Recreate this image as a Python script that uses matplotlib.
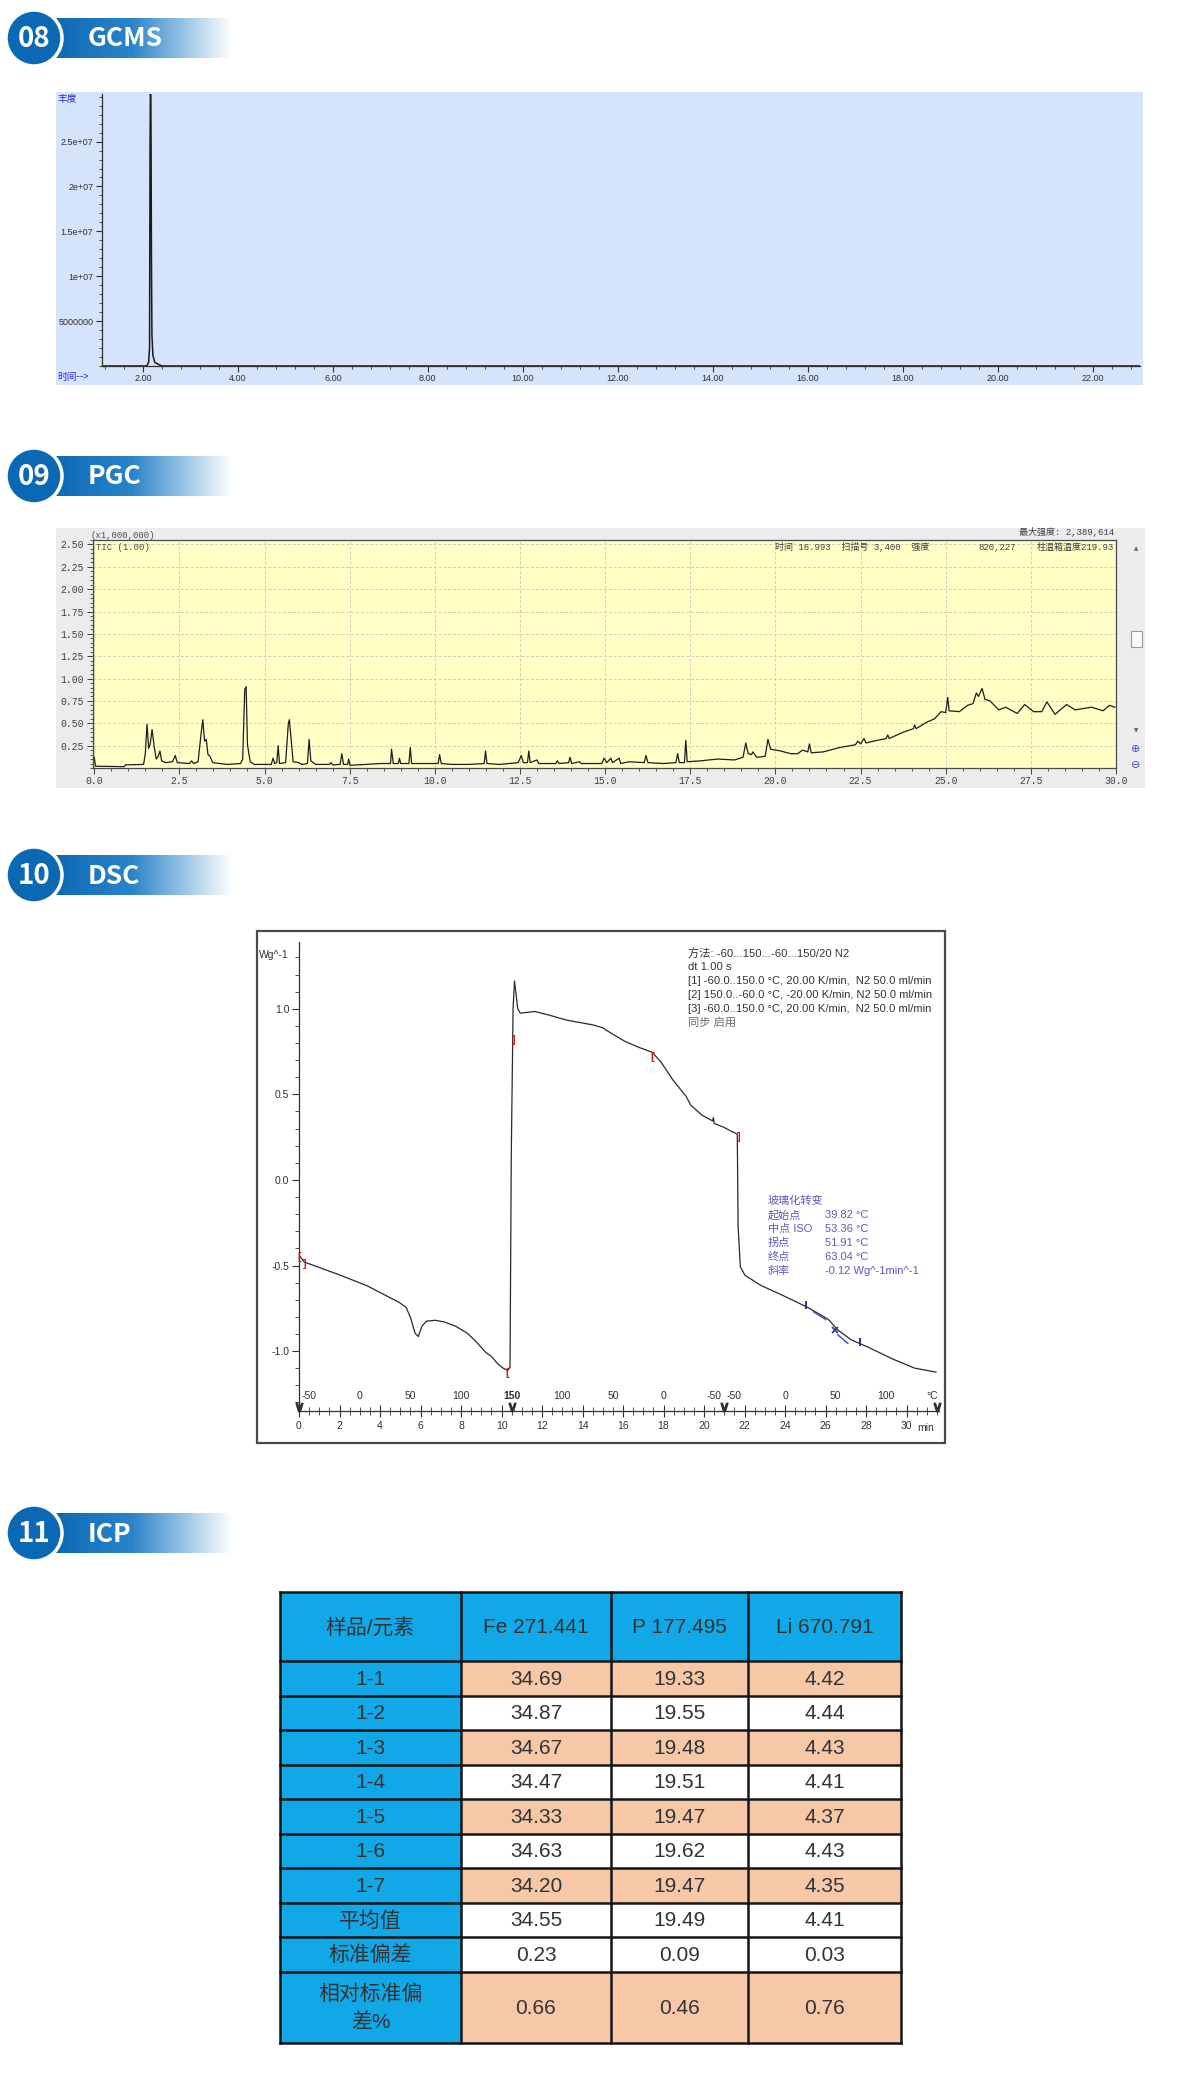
import numpy as np
import matplotlib
matplotlib.use('Agg')
import matplotlib.pyplot as plt
from matplotlib.patches import Rectangle, Circle
from matplotlib.colors import LinearSegmentedColormap
from matplotlib.ticker import MultipleLocator, FixedLocator, FormatStrFormatter

plt.rcParams['font.family'] = ['Liberation Sans', 'Noto Sans CJK SC', 'DejaVu Sans']
plt.rcParams['axes.unicode_minus'] = False

CJK = ['Noto Sans CJK SC', 'DejaVu Sans']
MONO = ['Liberation Mono', 'Noto Sans CJK SC', 'DejaVu Sans']

# section headers
sec_nums = ['08', '09', '10', '11']
sec_names = ['GCMS', 'PGC', 'DSC', 'ICP']

# GCMS total ion chromatogram
gcms_time = [1.13, 2.08, 2.12, 2.14, 2.15, 2.16, 2.17, 2.18, 2.19, 2.21, 2.25, 2.32, 2.40, 23.0]
gcms_abund = [0, 0, 4e5, 2.0e6, 2.4e7, 3.2e7, 2.7e7, 1.2e7, 3.5e6, 1.2e6, 4e5, 2e5, 0, 0]
gcms_yticks = [5e6, 1e7, 1.5e7, 2e7, 2.5e7]
gcms_ylabels = ['5000000', '1e+07', '1.5e+07', '2e+07', '2.5e+07']

# PGC chromatogram (time min, intensity x1,000,000)
pgc_time = [0.00, 0.04, 0.88, 0.92, 1.45, 1.50, 1.55, 1.60, 1.64, 1.70, 1.76, 1.82, 1.88, 1.93, 1.98,
            2.10, 2.30, 2.38, 2.44, 2.80, 2.86, 2.92, 3.05, 3.14, 3.19, 3.24, 3.29, 3.34, 3.40, 3.48,
            3.90, 4.30, 4.36, 4.42, 4.46, 4.50, 4.58, 4.70, 5.20, 5.25, 5.30, 5.36, 5.40, 5.44, 5.62,
            5.70, 5.73, 5.78, 5.84, 6.00, 6.10, 6.26, 6.31, 6.36, 6.50, 6.90, 6.95, 7.00, 7.22, 7.27,
            7.32, 7.44, 7.47, 7.51, 7.95, 8.40, 8.70, 8.73, 8.78, 8.93, 8.96, 9.00, 9.24, 9.28, 9.32,
            9.70, 10.10, 10.14, 10.19, 10.50, 11.00, 11.45, 11.49, 11.53, 11.90, 12.45, 12.54, 12.60,
            12.72, 12.76, 12.80, 13.00, 13.05, 13.55, 13.60, 13.65, 13.93, 13.97, 14.02, 14.25, 14.30,
            14.90, 14.97, 15.05, 15.17, 15.22, 15.41, 15.46, 15.70, 16.15, 16.20, 16.26, 16.70, 17.08,
            17.13, 17.18, 17.33, 17.37, 17.41, 17.80, 18.30, 18.80, 19.05, 19.13, 19.20, 19.30, 19.34,
            19.45, 19.70, 19.78, 19.86, 20.16, 20.45, 20.65, 20.80, 20.95, 21.00, 21.05, 21.40, 21.90,
            22.35, 22.42, 22.50, 22.60, 22.66, 22.88, 23.25, 23.30, 23.34, 23.75, 24.05, 24.09, 24.13,
            24.43, 24.67, 24.86, 25.00, 25.06, 25.10, 25.40, 25.64, 25.80, 25.90, 25.96, 26.07, 26.15,
            26.30, 26.56, 26.76, 27.10, 27.32, 27.58, 27.82, 27.97, 28.21, 28.55, 28.80, 29.28, 29.62,
            29.80, 29.97]
pgc_int = [0.12, 0.02, 0.015, 0.035, 0.04, 0.16, 0.49, 0.22, 0.26, 0.43, 0.24, 0.10, 0.13, 0.19, 0.08,
           0.06, 0.07, 0.14, 0.06, 0.05, 0.08, 0.05, 0.07, 0.39, 0.54, 0.30, 0.32, 0.15, 0.13, 0.06,
           0.04, 0.05, 0.10, 0.88, 0.91, 0.26, 0.07, 0.04, 0.04, 0.11, 0.05, 0.06, 0.25, 0.05, 0.06,
           0.50, 0.54, 0.32, 0.07, 0.06, 0.04, 0.05, 0.32, 0.08, 0.04, 0.04, 0.06, 0.035, 0.04, 0.16,
           0.04, 0.04, 0.10, 0.03, 0.04, 0.05, 0.05, 0.21, 0.05, 0.05, 0.11, 0.05, 0.05, 0.23, 0.05,
           0.05, 0.05, 0.15, 0.05, 0.04, 0.04, 0.05, 0.19, 0.05, 0.04, 0.06, 0.14, 0.06,
           0.06, 0.19, 0.06, 0.09, 0.05, 0.05, 0.08, 0.05, 0.06, 0.12, 0.05, 0.07, 0.05,
           0.05, 0.11, 0.06, 0.11, 0.06, 0.11, 0.05, 0.07, 0.06, 0.14, 0.06, 0.05, 0.06,
           0.16, 0.06, 0.06, 0.31, 0.07, 0.08, 0.10, 0.09, 0.12, 0.28, 0.16, 0.15, 0.18,
           0.12, 0.13, 0.32, 0.21, 0.19, 0.16, 0.16, 0.20, 0.18, 0.27, 0.17, 0.18, 0.23,
           0.26, 0.30, 0.27, 0.33, 0.28, 0.30, 0.33, 0.37, 0.33, 0.40, 0.44, 0.48, 0.44,
           0.51, 0.55, 0.63, 0.62, 0.79, 0.64, 0.63, 0.70, 0.72, 0.84, 0.80, 0.89, 0.77,
           0.75, 0.65, 0.68, 0.61, 0.71, 0.63, 0.63, 0.74, 0.60, 0.71, 0.65, 0.68, 0.64,
           0.70, 0.68]

# DSC curve (time min, heat flow Wg^-1)
dsc_time = [0.0, 0.27, 2.05, 3.39, 4.95, 5.29, 5.51, 5.73, 5.89, 6.07, 6.29, 6.74, 7.18, 7.74, 8.3,
            8.74, 9.19, 9.52, 9.81, 10.08, 10.3, 10.42, 10.48, 10.57, 10.64, 10.8, 10.93, 11.2, 11.64,
            12.31, 13.2, 14.54, 14.99, 15.44, 16.1, 16.77, 17.44, 17.89, 18.45, 19.12, 19.34, 19.9,
            20.42, 20.46, 20.5, 20.97, 21.35, 21.64, 21.68, 21.79, 22.02, 22.8, 23.91, 25.14, 26.14,
            26.59, 27.26, 28.04, 29.27, 30.38, 31.45]
dsc_flow = [-0.44, -0.48, -0.557, -0.62, -0.716, -0.745, -0.805, -0.895, -0.915, -0.855, -0.825,
            -0.82, -0.83, -0.855, -0.895, -0.944, -1.004, -1.034, -1.074, -1.10, -1.113, -1.093, 0.13,
            1.0, 1.163, 1.0, 0.974, 0.978, 0.984, 0.964, 0.934, 0.905, 0.889, 0.855, 0.809, 0.775,
            0.746, 0.686, 0.586, 0.487, 0.437, 0.378, 0.345, 0.364, 0.33, 0.308, 0.284, 0.268, -0.268,
            -0.507, -0.557, -0.616, -0.676, -0.746, -0.815, -0.875, -0.934, -0.974, -1.044, -1.099,
            -1.123]
red_time = [0.0, 0.3, 10.3, 10.6, 17.45, 21.7]
red_flow = [-0.45, -0.49, -1.13, 0.82, 0.72, 0.25]
red_sym = ['[', ']', '[', ']', '[', ']']
glass_time = [25.05, 26.45, 27.7]
glass_flow = [-0.73, -0.875, -0.945]
temp_time = [0.5, 3, 5.5, 8, 10.5, 13, 15.5, 18, 20.5, 21.5, 24, 26.5, 29]
temp_labels = ['-50', '0', '50', '100', '150', '100', '50', '0', '-50', '-50', '0', '50', '100']
seg_time = [0, 10.5, 21, 31.5]
method_lines = ['方法: -60...150...-60...150/20 N2',
                'dt 1.00 s',
                '[1] -60.0..150.0 °C, 20.00 K/min,  N2 50.0 ml/min',
                '[2] 150.0..-60.0 °C, -20.00 K/min, N2 50.0 ml/min',
                '[3] -60.0..150.0 °C, 20.00 K/min,  N2 50.0 ml/min',
                '同步 启用']
glass_names = ['玻璃化转变', '起始点', '中点 ISO', '拐点', '终点', '斜率']
glass_values = ['', '39.82 °C', '53.36 °C', '51.91 °C', '63.04 °C', '-0.12 Wg^-1min^-1']

# ICP table
icp_header = ['样品/元素', 'Fe 271.441', 'P 177.495', 'Li 670.791']
icp_samples = ['1-1', '1-2', '1-3', '1-4', '1-5', '1-6', '1-7', '平均值', '标准偏差', '相对标准偏\n差%']
icp_fe = [34.69, 34.87, 34.67, 34.47, 34.33, 34.63, 34.20, 34.55, 0.23, 0.66]
icp_p = [19.33, 19.55, 19.48, 19.51, 19.47, 19.62, 19.47, 19.49, 0.09, 0.46]
icp_li = [4.42, 4.44, 4.43, 4.41, 4.37, 4.43, 4.35, 4.41, 0.03, 0.76]
icp_peach = [True, False, True, False, True, False, True, False, False, True]

W, H = 1200, 2079
fig = plt.figure(figsize=(12, 20.79), dpi=100)
ax_bg = fig.add_axes([0, 0, 1, 1])
ax_bg.set_xlim(0, W)
ax_bg.set_ylim(H, 0)
ax_bg.axis('off')


def px_axes(x0, y0, x1, y1):
    return fig.add_axes([x0 / W, 1 - y1 / H, (x1 - x0) / W, (y1 - y0) / H])


# section badges
bar_cmap = LinearSegmentedColormap.from_list('bar', [(0, '#0b68b4'), (0.45, '#2a84c9'), (1, '#ffffff')])
grad = np.linspace(0, 1, 256).reshape(1, -1)
for yc, num, name in zip([38, 476, 875, 1533], sec_nums, sec_names):
    ax_bg.imshow(grad, extent=(50, 232, yc + 20, yc - 20), cmap=bar_cmap, aspect='auto', zorder=1)
    ax_bg.add_patch(Circle((34, yc), 28, facecolor='#0b68b4', edgecolor='white', lw=2.5, zorder=3))
    ax_bg.text(34, yc + 1, num, color='white', fontsize=20, fontweight='bold', family=CJK,
               ha='center', va='center', zorder=4)
    ax_bg.text(88, yc + 1, name, color='white', fontsize=19, fontweight='bold', family=CJK,
               ha='left', va='center', zorder=4)
ax_bg.set_xlim(0, W)
ax_bg.set_ylim(H, 0)

# ---------- GCMS ----------
ax_bg.add_patch(Rectangle((56, 92), 1087, 293, facecolor='#d5e3fb', edgecolor='none'))
ax1 = px_axes(101.6, 94, 1140, 366)
ax1.set_facecolor('none')
ax1.plot(gcms_time, gcms_abund, color='#1a1a1a', lw=1.1)
ax1.set_xlim(1.13, 23.0)
ax1.set_ylim(0, 3.03e7)
for s in ['top', 'right']:
    ax1.spines[s].set_visible(False)
for s in ['left', 'bottom']:
    ax1.spines[s].set_color('#303030')
    ax1.spines[s].set_linewidth(0.9)
ax1.xaxis.set_major_locator(MultipleLocator(2))
ax1.xaxis.set_minor_locator(MultipleLocator(0.4))
ax1.xaxis.set_major_formatter(FormatStrFormatter('%.2f'))
ax1.yaxis.set_major_locator(FixedLocator(gcms_yticks))
ax1.set_yticklabels(gcms_ylabels)
ax1.yaxis.set_minor_locator(MultipleLocator(1e6))
ax1.tick_params(which='major', length=4, width=0.8, color='#303030', labelsize=6.5,
                labelcolor='#303030', pad=2)
ax1.tick_params(which='minor', length=2, width=0.6, color='#303030')

# ---------- PGC ----------
ax_bg.add_patch(Rectangle((56, 528), 1089, 260, facecolor='#ececec', edgecolor='none'))
ax2 = px_axes(92.5, 540, 1116, 768)
ax2.set_facecolor('#ffffc6')
ax2.plot(pgc_time, pgc_int, color='#1e1e1e', lw=0.9)
ax2.set_xlim(-0.05, 30)
ax2.set_ylim(0, 2.55)
ax2.xaxis.set_major_locator(MultipleLocator(2.5))
ax2.xaxis.set_minor_locator(MultipleLocator(0.5))
ax2.xaxis.set_major_formatter(FormatStrFormatter('%.1f'))
ax2.yaxis.set_major_locator(FixedLocator(np.arange(0.25, 2.51, 0.25)))
ax2.yaxis.set_major_formatter(FormatStrFormatter('%.2f'))
ax2.yaxis.set_minor_locator(MultipleLocator(0.05))
ax2.grid(True, which='major', ls=(0, (3, 2)), color='#cfcfb2', lw=0.7)
for s in ax2.spines.values():
    s.set_color('#4a4a4a')
    s.set_linewidth(0.9)
ax2.tick_params(which='major', length=4, width=0.7, color='#404040', labelsize=7,
                labelcolor='#404040', pad=2)
ax2.tick_params(which='minor', length=2, width=0.6, color='#404040')
for lab in ax2.get_xticklabels() + ax2.get_yticklabels():
    lab.set_family(MONO)
ax_bg.add_patch(Rectangle((1131, 631), 11, 16, facecolor='#fafafa', edgecolor='#9a9a9a', lw=0.8))

# ---------- DSC ----------
ax_bg.add_patch(Rectangle((257, 931), 688, 512, facecolor='white', edgecolor='#4a4a4a', lw=1.6))
ax3 = px_axes(299, 942, 939, 1411)
ax3.set_facecolor('none')
ax3.plot(dsc_time, dsc_flow, color='#2a2a2a', lw=0.9)
ax3.set_xlim(0, 31.6)
ax3.set_ylim(-1.35, 1.39)
for s in ['top', 'right']:
    ax3.spines[s].set_visible(False)
for s in ['left', 'bottom']:
    ax3.spines[s].set_color('#303030')
    ax3.spines[s].set_linewidth(0.9)
ax3.yaxis.set_major_locator(FixedLocator([-1.0, -0.5, 0.0, 0.5, 1.0]))
ax3.yaxis.set_major_formatter(FormatStrFormatter('%.1f'))
ax3.yaxis.set_minor_locator(MultipleLocator(0.1))
ax3.xaxis.set_major_locator(FixedLocator(np.arange(0, 31, 2)))
ax3.xaxis.set_major_formatter(FormatStrFormatter('%d'))
ax3.xaxis.set_minor_locator(MultipleLocator(0.5))
ax3.tick_params(axis='y', which='major', direction='out', length=5, width=0.8, labelsize=7.5,
                color='#303030', labelcolor='#303030', pad=2)
ax3.tick_params(axis='y', which='minor', direction='out', length=3, width=0.6, color='#303030')
ax3.tick_params(axis='x', which='major', direction='inout', length=9, width=0.8, labelsize=7.5,
                color='#303030', labelcolor='#303030', pad=3)
ax3.tick_params(axis='x', which='minor', direction='inout', length=6, width=0.6, color='#303030')
for t, lab in zip(temp_time, temp_labels):
    ax3.text(t, -1.262, lab, ha='center', va='center', fontsize=7.5, color='#303030',
             fontweight='bold' if lab == '150' else 'normal')
ax3.text(31.25, -1.262, '°C', ha='center', va='center', fontsize=7.5, color='#303030')
ax3.plot(seg_time, [-1.325] * len(seg_time), ls='none', marker=r'$\vee$', ms=6, color='#303030',
         clip_on=False)
for t, v, sym in zip(red_time, red_flow, red_sym):
    ax3.text(t, v, sym, color='#e01010', fontsize=8, fontweight='bold', ha='center', va='center')
ax3.plot([25.4, 26.0], [-0.77, -0.815], color='#5050c8', lw=1.1)
ax3.plot([26.6, 27.1], [-0.905, -0.955], color='#5050c8', lw=1.1)
ax3.plot(glass_time[0], glass_flow[0], marker='|', ms=6, mew=1.5, color='#3030a0')
ax3.plot(glass_time[1], glass_flow[1], marker='x', ms=5, mew=1.2, color='#3030a0')
ax3.plot(glass_time[2], glass_flow[2], marker='|', ms=6, mew=1.5, color='#3030a0')

# ---------- ICP table ----------
col_x = [280, 461, 611, 748, 901]
row_y = [1592, 1661] + [1661 + 34.5 * (i + 1) for i in range(9)] + [2043]
blue = '#10a8e6'
peach = '#f6c8a8'
for c in range(4):
    ax_bg.add_patch(Rectangle((col_x[c], row_y[0]), col_x[c + 1] - col_x[c], row_y[1] - row_y[0],
                              facecolor=blue, edgecolor='none'))
    ax_bg.text((col_x[c] + col_x[c + 1]) / 2, (row_y[0] + row_y[1]) / 2 + 1, icp_header[c],
               fontsize=15, color='#333333', ha='center', va='center')
for r in range(len(icp_samples)):
    y0, y1 = row_y[r + 1], row_y[r + 2]
    ym = (y0 + y1) / 2 + 1
    ax_bg.add_patch(Rectangle((col_x[0], y0), col_x[1] - col_x[0], y1 - y0, facecolor=blue,
                              edgecolor='none'))
    ax_bg.text((col_x[0] + col_x[1]) / 2, ym, icp_samples[r], fontsize=15, color='#333333',
               ha='center', va='center', linespacing=1.6)
    for c, vals in enumerate([icp_fe, icp_p, icp_li], start=1):
        ax_bg.add_patch(Rectangle((col_x[c], y0), col_x[c + 1] - col_x[c], y1 - y0,
                                  facecolor=peach if icp_peach[r] else 'white', edgecolor='none'))
        ax_bg.text((col_x[c] + col_x[c + 1]) / 2, ym, f'{vals[r]:.2f}', fontsize=15,
                   color='#333333', ha='center', va='center')
for y in row_y:
    ax_bg.plot([col_x[0], col_x[-1]], [y, y], color='#151515', lw=1.8, solid_capstyle='projecting')
for x in col_x:
    ax_bg.plot([x, x], [row_y[0], row_y[-1]], color='#151515', lw=1.8, solid_capstyle='projecting')

# ---------- overlay texts (above the plot areas) ----------
ax_top = fig.add_axes([0, 0, 1, 1])
ax_top.set_xlim(0, W)
ax_top.set_ylim(H, 0)
ax_top.axis('off')
ax_top.patch.set_alpha(0)

ax_top.text(58, 99, '丰度', color='#2a2ad6', fontsize=7, family=CJK, va='center')
ax_top.text(57, 377, '时间-->', color='#2a2ad6', fontsize=7, family=CJK, va='center')

ax_top.text(90, 535, '(x1,000,000)', fontsize=6.5, family=MONO, color='#505050', va='center')
ax_top.text(96, 547, 'TIC (1.00)', fontsize=6.5, family=MONO, color='#505050', va='center')
ax_top.text(1114, 532, '最大强度: 2,389,614', fontsize=6.5, family=MONO, color='#404040',
            va='center', ha='right')
ax_top.text(775, 547, '时间 16.993  扫描号 3,400  强度', fontsize=6.5, family=MONO, color='#404040',
            va='center')
ax_top.text(978, 547, '820,227', fontsize=6.5, family=MONO, color='#404040', va='center')
ax_top.text(1114, 547, '柱温箱温度219.93', fontsize=6.5, family=MONO, color='#404040', va='center',
            ha='right')
ax_top.text(1136, 549, '▲', fontsize=4, color='#606060', ha='center', va='center', family='DejaVu Sans')
ax_top.text(1136, 731, '▼', fontsize=4, color='#606060', ha='center', va='center', family='DejaVu Sans')
ax_top.text(1136, 749, '⊕', fontsize=8, color='#3454c4', ha='center', va='center', family='DejaVu Sans')
ax_top.text(1136, 765, '⊖', fontsize=8, color='#3454c4', ha='center', va='center', family='DejaVu Sans')

ax_top.text(926, 1428, 'min', fontsize=7.5, color='#303030', va='center', ha='center')
ax_top.text(259, 955, 'Wg^-1', fontsize=7.5, color='#303030', va='center')
for i, line in enumerate(method_lines):
    ax_top.text(688, 953 + 14 * i, line, fontsize=8.1, va='center',
                color='#6a6a6a' if i == len(method_lines) - 1 else '#333333')
for i, (nm, val) in enumerate(zip(glass_names, glass_values)):
    ax_top.text(768, 1201 + 14 * i, nm, fontsize=8, va='center', color='#5a5ab8')
    ax_top.text(825, 1201 + 14 * i, val, fontsize=8, va='center', color='#5a5ab8')

fig.savefig('out.png', dpi=100)
